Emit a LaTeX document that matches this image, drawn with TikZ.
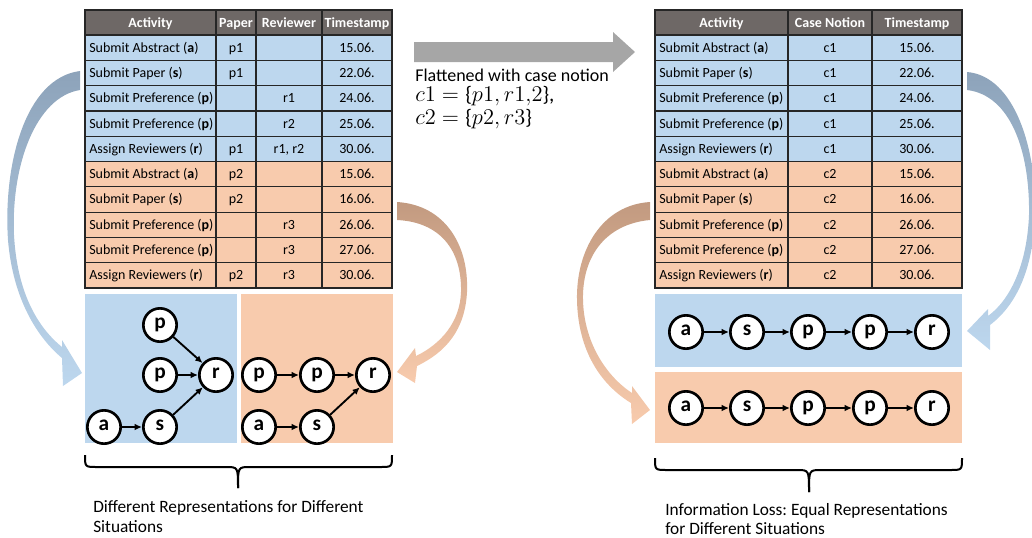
\documentclass[tikz,border=0pt]{standalone}
\usepackage{fontspec}
\setmainfont{Carlito}
\usetikzlibrary{arrows.meta}
\frenchspacing
\definecolor{hdr}{HTML}{6E6866}
\definecolor{bluefill}{HTML}{BDD7EE}
\definecolor{orgfill}{HTML}{F8CBAD}
\definecolor{gridc}{HTML}{262626}
\definecolor{bigarrow}{HTML}{A6A6A6}
\definecolor{bluedark}{HTML}{8DA3BA}
\definecolor{orgdark}{HTML}{C29A80}
\newcommand{\lbr}{\mbox{\{}}
\newcommand{\rbr}{\mbox{\}}}
\begin{document}
\begin{tikzpicture}[x=0.75pt,y=-0.75pt,
  cell/.style={font=\fontsize{10.5}{12}\selectfont, inner sep=0pt},
  headtxt/.style={font=\fontsize{10.5}{12}\selectfont\bfseries, text=white, inner sep=0pt, anchor=base},
  gridline/.style={draw=gridc, line width=0.9pt},
  ev/.style={circle, draw=black, fill=white, line width=2pt, minimum size=25pt, inner sep=0pt,
             text height=1ex, text depth=0pt, font=\fontsize{16}{16}\selectfont\bfseries},
  flow/.style={-{Latex[length=5.5pt,width=5pt]}, line width=1.4pt},
  captxt/.style={font=\fontsize{13}{15.5}\selectfont, anchor=base west, inner sep=0pt},
  flattxt/.style={font=\fontsize{13.5}{15.5}\selectfont, anchor=base west, inner sep=0pt},
  mathtxt/.style={flattxt, scale=1.17},
  bracepath/.style={line width=1.5pt},
]
\useasboundingbox (0,0) rectangle (1032,537);

% ---------- left table: per-paper view ----------
\fill[hdr] (85,10) rectangle (392,35);
\node[headtxt] (lh1) at (150.5,27) {Activity};
\node[headtxt] (lh2) at (236,27) {Paper};
\node[headtxt] (lh3) at (289,27) {Reviewer};
\node[headtxt] (lh4) at (357,27) {Timestamp};
\foreach \act/\pap/\rev/\ts/\col [count=\i] in {
  Submit Abstract (\textbf{a})/p1//15.06./bluefill,
  Submit Paper (\textbf{s})/p1//22.06./bluefill,
  Submit Preference (\textbf{p})//r1/24.06./bluefill,
  Submit Preference (\textbf{p})//r2/25.06./bluefill,
  Assign Reviewers (\textbf{r})/p1/{r1, r2}/30.06./bluefill,
  Submit Abstract (\textbf{a})/p2//15.06./orgfill,
  Submit Paper (\textbf{s})/p2//16.06./orgfill,
  Submit Preference (\textbf{p})//r3/26.06./orgfill,
  Submit Preference (\textbf{p})//r3/27.06./orgfill,
  Assign Reviewers (\textbf{r})/p2/r3/30.06./orgfill}{
  \pgfmathsetmacro\yt{35+25.3*(\i-1)}
  \pgfmathsetmacro\yb{35+25.3*\i}
  \pgfmathsetmacro\yl{35+25.3*(\i-0.5)+4.5}
  \fill[\col] (85,\yt) rectangle (392,\yb);
  \node[cell, anchor=base west] (la\i) at (89,\yl) {\act};
  \node[cell, anchor=base] (lp\i) at (236,\yl) {\pap};
  \node[cell, anchor=base] (lr\i) at (289,\yl) {\rev};
  \node[cell, anchor=base] (lt\i) at (357,\yl) {\ts};
}
\foreach \k in {0,...,10}
  \draw[gridline] (85,{35+25.3*\k}) -- (392,{35+25.3*\k});
\foreach \x in {216,256,322}
  \draw[gridline] (\x,10) -- (\x,288);
\draw[gridline] (85,10) rectangle (392,288);

% ---------- right table: flattened view ----------
\fill[hdr] (655,10) rectangle (962,35);
\node[headtxt] (rh1) at (721.5,27) {Activity};
\node[headtxt] (rh2) at (830,27) {Case Notion};
\node[headtxt] (rh3) at (917,27) {Timestamp};
\foreach \act/\cas/\ts/\col [count=\i] in {
  Submit Abstract (\textbf{a})/c1/15.06./bluefill,
  Submit Paper (\textbf{s})/c1/22.06./bluefill,
  Submit Preference (\textbf{p})/c1/24.06./bluefill,
  Submit Preference (\textbf{p})/c1/25.06./bluefill,
  Assign Reviewers (\textbf{r})/c1/30.06./bluefill,
  Submit Abstract (\textbf{a})/c2/15.06./orgfill,
  Submit Paper (\textbf{s})/c2/16.06./orgfill,
  Submit Preference (\textbf{p})/c2/26.06./orgfill,
  Submit Preference (\textbf{p})/c2/27.06./orgfill,
  Assign Reviewers (\textbf{r})/c2/30.06./orgfill}{
  \pgfmathsetmacro\yt{35+25.3*(\i-1)}
  \pgfmathsetmacro\yb{35+25.3*\i}
  \pgfmathsetmacro\yl{35+25.3*(\i-0.5)+4.5}
  \fill[\col] (655,\yt) rectangle (962,\yb);
  \node[cell, anchor=base west] (ra\i) at (659,\yl) {\act};
  \node[cell, anchor=base] (rc\i) at (830,\yl) {\cas};
  \node[cell, anchor=base] (rt\i) at (917,\yl) {\ts};
}
\foreach \k in {0,...,10}
  \draw[gridline] (655,{35+25.3*\k}) -- (962,{35+25.3*\k});
\foreach \x in {788,872}
  \draw[gridline] (\x,10) -- (\x,288);
\draw[gridline] (655,10) rectangle (962,288);

% ---------- flattening arrow and its label ----------
\fill[bigarrow] (414,42) -- (613,42) -- (613,32) -- (635,52) -- (613,72) -- (613,62) -- (414,62) -- cycle;
\node[flattxt] (flat1) at (415,81) {Flattened with case notion};
\node[mathtxt] (flat2) at (415,101.5) {$c1=\lbr p1,r1{,}2\rbr$,};
\node[mathtxt] (flat3) at (415,124) {$c2=\lbr p2,r3\rbr$};

% ---------- left graphs ----------
\fill[bluefill] (85,294) rectangle (237,443);
\fill[orgfill] (241,294) rectangle (393,443);
\node[ev] (bp1) at (160,325) {p};
\node[ev] (bp2) at (160,375) {p};
\node[ev] (br)  at (216,375) {r};
\node[ev] (ba)  at (104,427) {a};
\node[ev] (bs)  at (160,427) {s};
\draw[flow] (bp1) -- (br);
\draw[flow] (bp2) -- (br);
\draw[flow] (ba) -- (bs);
\draw[flow] (bs) -- (br);
\node[ev] (op1) at (259,375) {p};
\node[ev] (op2) at (317,375) {p};
\node[ev] (or)  at (373,375) {r};
\node[ev] (oa)  at (259,427) {a};
\node[ev] (os)  at (317,427) {s};
\draw[flow] (op1) -- (op2);
\draw[flow] (op2) -- (or);
\draw[flow] (oa) -- (os);
\draw[flow] (os) -- (or);

% ---------- right graphs ----------
\fill[bluefill] (655,294) rectangle (962,367);
\fill[orgfill] (655,372) rectangle (962,443);
\foreach \row/\y in {1/332,2/408}{
  \node[ev] (n\row a) at (686,\y) {a};
  \node[ev] (n\row s) at (747,\y) {s};
  \node[ev] (n\row p) at (808,\y) {p};
  \node[ev] (n\row q) at (870,\y) {p};
  \node[ev] (n\row r) at (932,\y) {r};
  \draw[flow] (n\row a) -- (n\row s);
  \draw[flow] (n\row s) -- (n\row p);
  \draw[flow] (n\row p) -- (n\row q);
  \draw[flow] (n\row q) -- (n\row r);
}

% ---------- curved mapping arrows ----------
\shade[top color=bluedark, middle color=bluefill, bottom color=bluefill]
  (80,71) .. controls (25,78) and (3,165) .. (8,240)
  .. controls (13,300) and (38,338) .. (62,358)
  -- (63,386) -- (82,373) -- (62,340) -- (62,347)
  .. controls (36,326) and (17,290) .. (14,235)
  .. controls (11,165) and (36,97) .. (80,90) -- cycle;
\shade[top color=orgdark, middle color=orgfill, bottom color=orgfill]
  (397,202) .. controls (445,205) and (469,245) .. (467,292)
  .. controls (465,330) and (446,352) .. (417,366)
  -- (415,383) -- (397,372) -- (415,348) -- (416,356)
  .. controls (441,344) and (460,322) .. (461,292)
  .. controls (462,250) and (440,222) .. (397,220) -- cycle;
\shade[top color=orgdark, middle color=orgfill, bottom color=orgfill]
  (650,202) .. controls (602,205) and (576,250) .. (577,300)
  .. controls (578,350) and (600,384) .. (631,403)
  -- (632,424) -- (650,410) -- (632,386) -- (632,393)
  .. controls (606,376) and (584,342) .. (583,300)
  .. controls (582,256) and (606,224) .. (650,220) -- cycle;
\shade[top color=bluedark, middle color=bluefill, bottom color=bluefill]
  (967,72) .. controls (1015,76) and (1037,150) .. (1035,215)
  .. controls (1033,272) and (1015,306) .. (990,325)
  -- (990,350) -- (967,331) -- (988,309) -- (988,316)
  .. controls (1010,300) and (1027,265) .. (1029,215)
  .. controls (1030,150) and (1010,95) .. (967,90) -- cycle;

% ---------- braces and captions ----------
\coordinate (bl) at (238,488);
\draw[bracepath] (85,455) .. controls (85,467) .. (97,467) -- (226,467) .. controls (238,467) .. (bl);
\draw[bracepath] (bl) .. controls (238,467) .. (250,467) -- (380,467) .. controls (392,467) .. (392,455);
\coordinate (br2) at (809,492);
\draw[bracepath] (655,458) .. controls (655,470) .. (667,470) -- (797,470) .. controls (809,470) .. (br2);
\draw[bracepath] (br2) .. controls (809,470) .. (821,470) -- (950,470) .. controls (962,470) .. (962,458);
\node[captxt] (capL1) at (93,512) {Different Representations for Different};
\node[captxt] (capL2) at (93,532) {Situations};
\node[captxt] (capR1) at (665,515) {Information Loss: Equal Representations};
\node[captxt] (capR2) at (665,534) {for Different Situations};
\end{tikzpicture}
\end{document}
